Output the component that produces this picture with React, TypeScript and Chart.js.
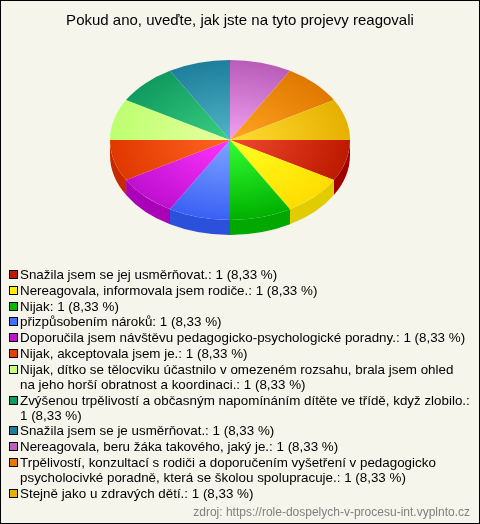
import React, { useEffect, useRef } from "react";
import { Chart, registerables } from "chart.js";

Chart.register(...registerables);

const TITLE = "Pokud ano, uveďte, jak jste na tyto projevy reagovali";
const SOURCE = "zdroj: https://role-dospelych-v-procesu-int.vyplnto.cz";
const categories = [
  "Snažila jsem se jej usměrňovat.",
  "Nereagovala, informovala jsem rodiče.",
  "Nijak",
  "přizpůsobením nároků",
  "Doporučila jsem návštěvu pedagogicko-psychologické poradny.",
  "Nijak, akceptovala jsem je.",
  "Nijak, dítko se tělocviku účastnilo v omezeném rozsahu, brala jsem ohled na jeho horší obratnost a koordinaci.",
  "Zvýšenou trpělivostí a občasným napomínáním dítěte ve třídě, když zlobilo.",
  "Snažila jsem se je usměrňovat.",
  "Nereagovala, beru žáka takového, jaký je.",
  "Trpělivostí, konzultací s rodiči a doporučením vyšetření v pedagogicko psycholocivké poradně, která se školou spolupracuje.",
  "Stejně jako u zdravých dětí.",
];
const values = [1, 1, 1, 1, 1, 1, 1, 1, 1, 1, 1, 1];
const percents = ["8,33", "8,33", "8,33", "8,33", "8,33", "8,33", "8,33", "8,33", "8,33", "8,33", "8,33", "8,33"];
const innerColors = ["#F04A30", "#FFFF22", "#33FF33", "#7FA5FF", "#FF33FF", "#FF6622", "#E8FFA0", "#3AD080", "#50B5C5", "#F2A0F2", "#FFA522", "#FFDD33"];
const outerColors = ["#BE1A00", "#FFDD00", "#00B000", "#3A60F5", "#BE10D0", "#E03800", "#BDFF70", "#109A60", "#1E7E9C", "#B85CB8", "#E07800", "#E6B000"];
const sideColors = ["#A00000", "#E0CC00", "#00A800", "#2A50DC", "#AA00B8", "#C82800", "#A0D060", "#0C7A4A", "#186480", "#904890", "#B06000", "#B88C00"];
const legendColors = ["#C01800", "#FFEE00", "#00BB00", "#4070FF", "#C010D0", "#E84000", "#C8FF78", "#109E60", "#1E7D9A", "#BC60BC", "#E87800", "#E8B000"];

const Y_SCALE = 2 / 3;
const DEPTH = 15;
const RADIUS = 120;
const SHIFT_X = -10;

const pie3d = {
  id: "pie3d",
  beforeDatasetDraw(chart: any) {
    const ctx = chart.ctx;
    const arcs = chart.getDatasetMeta(0).data;
    ctx.save();
    ctx.translate(SHIFT_X, 0);
    arcs.forEach((arc: any, i: number) => {
      const { x, y, startAngle, endAngle, outerRadius } = arc.getProps(["x", "y", "startAngle", "endAngle", "outerRadius"], true);
      const a = Math.max(startAngle, 0);
      const b = Math.min(endAngle, Math.PI);
      if (a < b) {
        const ry = outerRadius * Y_SCALE;
        ctx.beginPath();
        ctx.ellipse(x, y, outerRadius, ry, 0, a, b);
        ctx.ellipse(x, y + DEPTH, outerRadius, ry, 0, b, a, true);
        ctx.closePath();
        ctx.fillStyle = sideColors[i];
        ctx.fill();
      }
    });
    const first = arcs[0];
    ctx.translate(first.x, first.y);
    ctx.scale(1, Y_SCALE);
    ctx.translate(-first.x, -first.y);
  },
  afterDatasetDraw(chart: any) {
    chart.ctx.restore();
  },
};

export default function App() {
  const ref = useRef<HTMLCanvasElement>(null);
  useEffect(() => {
    document.body.style.margin = "0";
    const chart = new Chart(ref.current!, {
      type: "pie",
      plugins: [pie3d],
      data: {
        labels: categories,
        datasets: [
          {
            data: values,
            borderWidth: 0,
            backgroundColor: (c: any) => {
              const area = c.chart.chartArea;
              if (!area) return innerColors[c.dataIndex];
              const cx = (area.left + area.right) / 2;
              const cy = (area.top + area.bottom) / 2;
              const g = c.chart.ctx.createRadialGradient(cx, cy, 0, cx, cy, RADIUS);
              g.addColorStop(0, innerColors[c.dataIndex]);
              g.addColorStop(1, outerColors[c.dataIndex]);
              return g;
            },
          },
        ],
      },
      options: {
        animation: false,
        responsive: false,
        rotation: 90,
        radius: RADIUS,
        layout: { padding: { left: 0, right: 0, top: 0, bottom: 274 } },
        plugins: {
          legend: { display: false },
          tooltip: { enabled: false },
          title: {
            display: true,
            text: TITLE,
            color: "#000000",
            font: { family: "Arial, 'Liberation Sans', sans-serif", size: 15, weight: "normal" },
            padding: { top: 12, bottom: 0 },
          },
        },
      },
    } as any);
    return () => chart.destroy();
  }, []);

  return (
    <div style={{ position: "fixed", left: 0, top: 0, width: 480, height: 524, background: "#F5F5EC", fontFamily: "Arial, 'Liberation Sans', sans-serif", overflow: "hidden" }}>
      <canvas ref={ref} width={480} height={524} style={{ position: "absolute", left: 0, top: 0, display: "block" }} />
      <div style={{ position: "absolute", left: 20, top: 267, width: 451, fontSize: 13.38, lineHeight: "15px", color: "#000" }}>
        {categories.map((name, i) => (
          <div key={name} style={{ position: "relative", marginBottom: 0.8 }}>
            <span style={{ position: "absolute", left: -11, top: 3, width: 7, height: 7, border: "1px solid #000", background: legendColors[i] }} />
            {`${name}: ${values[i]} (${percents[i]} %)`}
          </div>
        ))}
      </div>
      <div style={{ position: "absolute", right: 10, top: 505, fontSize: 12, lineHeight: "14px", color: "#808080" }}>{SOURCE}</div>
      <div style={{ position: "absolute", inset: 0, border: "1px solid #000", boxSizing: "border-box", pointerEvents: "none" }} />
    </div>
  );
}
